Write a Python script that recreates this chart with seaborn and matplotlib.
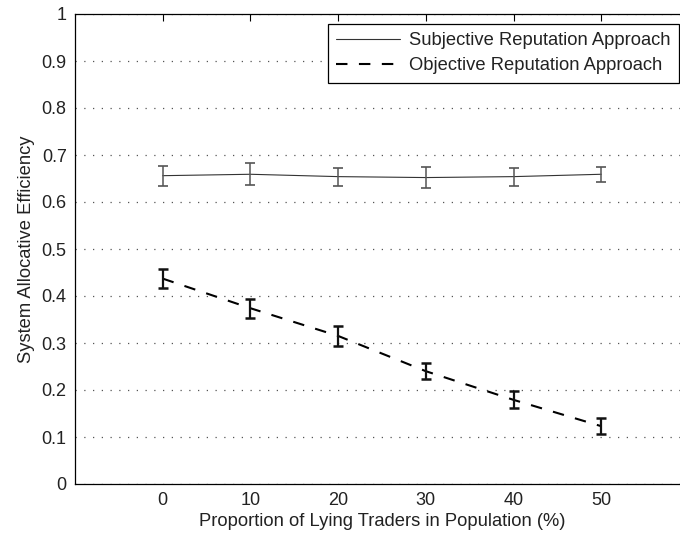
import matplotlib
matplotlib.use("Agg")
import matplotlib.pyplot as plt
import seaborn as sns
import pandas as pd
import numpy as np

liars = [0, 10, 20, 30, 40, 50]
subjective = [0.656, 0.659, 0.654, 0.652, 0.654, 0.659]
subjective_err = [0.021, 0.023, 0.019, 0.022, 0.019, 0.016]
objective = [0.437, 0.374, 0.315, 0.240, 0.179, 0.123]
objective_err = [0.021, 0.020, 0.022, 0.017, 0.018, 0.017]
yticks = [0, 0.1, 0.2, 0.3, 0.4, 0.5, 0.6, 0.7, 0.8, 0.9, 1]
ytick_labels = ["0", "0.1", "0.2", "0.3", "0.4", "0.5", "0.6", "0.7", "0.8", "0.9", "1"]
xticks = [0, 10, 20, 30, 40, 50]

sns.set_style("white")
plt.rcParams['font.family'] = ['Liberation Sans', 'DejaVu Sans']

fig = plt.figure(figsize=(6.8, 5.38), dpi=100)
ax = fig.add_axes([75/680, 54/538, 614/680, 470/538])

df = pd.DataFrame({
    "x": liars + liars,
    "y": subjective + objective,
    "series": ["Subjective Reputation Approach"] * 6 + ["Objective Reputation Approach"] * 6,
})

sns.lineplot(data=df[df.series == "Subjective Reputation Approach"], x="x", y="y",
             color="#333333", linewidth=0.8, ax=ax, label="Subjective Reputation Approach")
sns.lineplot(data=df[df.series == "Objective Reputation Approach"], x="x", y="y",
             color="black", linewidth=1.5, ax=ax, label="Objective Reputation Approach",
             dashes=False)
ax.lines[1].set_dashes((5.5, 5.5))

ax.errorbar(liars, subjective, yerr=subjective_err, fmt='none', ecolor="#555555",
            elinewidth=1.1, capsize=3.4, capthick=1.2)
ax.errorbar(liars, objective, yerr=objective_err, fmt='none', ecolor="#111111",
            elinewidth=1.6, capsize=3.4, capthick=1.8)

ax.set_xlim(-10, 60)
ax.set_ylim(0, 1)
ax.set_xticks(xticks)
ax.set_xticklabels([str(v) for v in xticks])
ax.set_yticks(yticks)
ax.set_yticklabels(ytick_labels)
ax.tick_params(direction='in', length=5, width=0.8, top=True, right=True,
               labelsize=13, colors='black', pad=6)
for lab in ax.get_xticklabels() + ax.get_yticklabels():
    lab.set_color('#222222')
ax.yaxis.grid(True, linestyle=(0, (1, 6)), color='#555555', linewidth=0.9)
ax.xaxis.grid(False)
for s in ax.spines.values():
    s.set_color('black')
    s.set_linewidth(0.9)

ax.set_xlabel("Proportion of Lying Traders in Population (%)", fontsize=13.2, color='#222222', labelpad=3)
ax.set_ylabel("System Allocative Efficiency", fontsize=13.2, color='#222222', labelpad=5)

leg = ax.legend(loc='upper right', bbox_to_anchor=(679/680, 1 - 24/538),
                bbox_transform=fig.transFigure, borderaxespad=0, fontsize=13.2,
                frameon=True, fancybox=False, edgecolor='black', framealpha=1,
                handlelength=3.5, labelspacing=0.45, borderpad=0.45, handletextpad=0.5)
leg.get_frame().set_linewidth(0.9)
for t in leg.get_texts():
    t.set_color('#222222')

fig.savefig("out.png", dpi=100)
